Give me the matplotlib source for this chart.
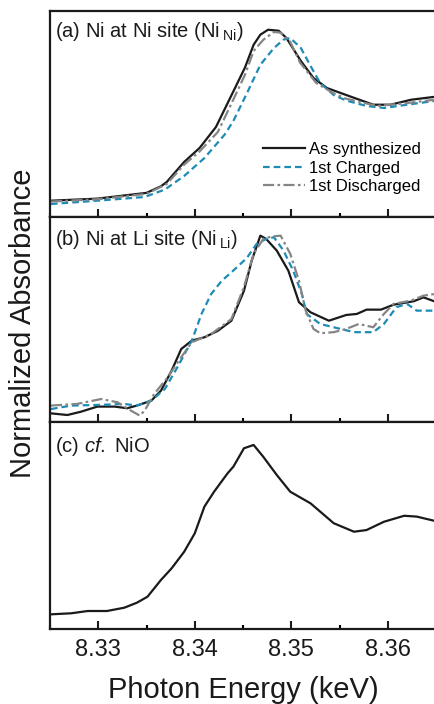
import matplotlib
matplotlib.use('Agg')
import matplotlib.pyplot as plt
from matplotlib.ticker import MultipleLocator

# Panel (a): Ni at Ni site
a_synth_e = [8.3251, 8.3299, 8.3350, 8.3365, 8.3371, 8.3389, 8.3405, 8.3422, 8.3439, 8.3452,
             8.3461, 8.3468, 8.3476, 8.3487, 8.3495, 8.3510, 8.3523, 8.3537, 8.3557, 8.3585,
             8.3603, 8.3624, 8.3648]
a_synth_y = [0.079, 0.089, 0.117, 0.149, 0.170, 0.267, 0.335, 0.437, 0.600, 0.725,
             0.836, 0.885, 0.909, 0.904, 0.869, 0.757, 0.675, 0.626, 0.592, 0.545,
             0.545, 0.569, 0.583]
a_charged_e = [8.3251, 8.3299, 8.3348, 8.3369, 8.3389, 8.3410, 8.3431, 8.3440, 8.3454, 8.3468,
               8.3482, 8.3492, 8.3499, 8.3510, 8.3520, 8.3530, 8.3544, 8.3557, 8.3578, 8.3596,
               8.3620, 8.3648]
a_charged_y = [0.063, 0.079, 0.097, 0.133, 0.199, 0.286, 0.400, 0.466, 0.600, 0.739,
               0.820, 0.861, 0.869, 0.820, 0.733, 0.650, 0.592, 0.565, 0.539, 0.529,
               0.545, 0.563]
a_disch_e = [8.3251, 8.3299, 8.3350, 8.3371, 8.3389, 8.3405, 8.3424, 8.3440, 8.3452, 8.3461,
             8.3471, 8.3482, 8.3489, 8.3499, 8.3509, 8.3526, 8.3544, 8.3557, 8.3589, 8.3620,
             8.3648]
a_disch_y = [0.075, 0.086, 0.112, 0.160, 0.254, 0.318, 0.413, 0.570, 0.690, 0.806,
             0.860, 0.898, 0.895, 0.850, 0.750, 0.650, 0.600, 0.574, 0.539, 0.553,
             0.569]

# Panel (b): Ni at Li site
b_synth_e = [8.3251, 8.3268, 8.3282, 8.3299, 8.3317, 8.3330, 8.3340, 8.3355, 8.3365, 8.3376,
             8.3386, 8.3397, 8.3410, 8.3424, 8.3438, 8.3451, 8.3459, 8.3468, 8.3474, 8.3485,
             8.3497, 8.3508, 8.3520, 8.3539, 8.3557, 8.3568, 8.3578, 8.3593, 8.3606, 8.3627,
             8.3637, 8.3648]
b_synth_y = [0.042, 0.034, 0.050, 0.075, 0.075, 0.067, 0.080, 0.104, 0.153, 0.250,
             0.356, 0.397, 0.413, 0.445, 0.494, 0.640, 0.787, 0.909, 0.893, 0.836,
             0.738, 0.584, 0.535, 0.494, 0.522, 0.527, 0.548, 0.548, 0.572, 0.589,
             0.608, 0.589]
b_charged_e = [8.3251, 8.3272, 8.3299, 8.3327, 8.3340, 8.3355, 8.3369, 8.3382, 8.3397, 8.3407,
               8.3417, 8.3428, 8.3438, 8.3454, 8.3464, 8.3474, 8.3482, 8.3492, 8.3502, 8.3511,
               8.3516, 8.3530, 8.3544, 8.3565, 8.3585, 8.3596, 8.3609, 8.3620, 8.3630, 8.3648]
b_charged_y = [0.063, 0.080, 0.083, 0.088, 0.080, 0.104, 0.161, 0.267, 0.397, 0.527,
               0.624, 0.689, 0.730, 0.800, 0.868, 0.893, 0.901, 0.836, 0.738, 0.624,
               0.527, 0.478, 0.462, 0.438, 0.438, 0.478, 0.560, 0.576, 0.543, 0.543]
b_disch_e = [8.3251, 8.3278, 8.3303, 8.3320, 8.3334, 8.3343, 8.3348, 8.3358, 8.3372, 8.3386,
             8.3397, 8.3417, 8.3438, 8.3451, 8.3461, 8.3471, 8.3479, 8.3489, 8.3499, 8.3508,
             8.3515, 8.3523, 8.3530, 8.3544, 8.3557, 8.3570, 8.3585, 8.3596, 8.3606, 8.3624,
             8.3637, 8.3648]
b_disch_y = [0.080, 0.088, 0.112, 0.096, 0.055, 0.031, 0.055, 0.137, 0.218, 0.316,
             0.389, 0.429, 0.502, 0.659, 0.820, 0.893, 0.904, 0.909, 0.820, 0.689,
             0.543, 0.454, 0.433, 0.438, 0.454, 0.478, 0.462, 0.527, 0.576, 0.592,
             0.616, 0.624]

# Panel (c): NiO reference
c_nio_e = [8.3251, 8.3272, 8.3289, 8.3309, 8.3327, 8.3340, 8.3351, 8.3365, 8.3376, 8.3389,
           8.3400, 8.3410, 8.3420, 8.3434, 8.3440, 8.3451, 8.3461, 8.3471, 8.3485, 8.3499,
           8.3520, 8.3544, 8.3565, 8.3578, 8.3596, 8.3617, 8.3630, 8.3648]
c_nio_y = [0.071, 0.076, 0.087, 0.087, 0.103, 0.127, 0.156, 0.237, 0.293, 0.373,
           0.462, 0.591, 0.663, 0.752, 0.784, 0.873, 0.889, 0.832, 0.744, 0.663,
           0.607, 0.511, 0.470, 0.478, 0.518, 0.547, 0.543, 0.523]

x_ticks = [8.33, 8.34, 8.35, 8.36]
x_tick_labels = ['8.33', '8.34', '8.35', '8.36']

plt.rcParams['font.family'] = ['Liberation Sans', 'DejaVu Sans']
plt.rcParams['mathtext.fontset'] = 'custom'
plt.rcParams['mathtext.rm'] = 'Liberation Sans'
plt.rcParams['mathtext.it'] = 'Liberation Sans:italic'

BLACK = '#1a1a1a'
BLUE = '#1e8bb5'
GRAY = '#858585'

synth_style = dict(color=BLACK, lw=1.6, ls='-')
charged_style = dict(color=BLUE, lw=1.6, ls=(0, (3, 1.8)))
disch_style = dict(color=GRAY, lw=1.6, ls=(0, (5, 1.5, 1.2, 1.5)))

fig = plt.figure(figsize=(4.34, 7.04), dpi=100)

# axes positions in figure fraction (left, bottom, width, height)
left, width = 50 / 434, 386 / 434
ax_a = fig.add_axes([left, 0.6918, width, 0.2926])
ax_b = fig.add_axes([left, 0.4006, width, 0.2912])
ax_c = fig.add_axes([left, 0.1065, width, 0.2941])

for ax in (ax_a, ax_b, ax_c):
    ax.set_xlim(8.325, 8.365)
    ax.set_ylim(0, 1)
    ax.set_yticks([])
    ax.xaxis.set_major_locator(MultipleLocator(0.01))
    ax.xaxis.set_minor_locator(MultipleLocator(0.005))
    ax.set_xticks(x_ticks)
    ax.tick_params(axis='x', which='major', direction='in', length=5.5, width=1.5,
                   labelsize=17, pad=7, colors=BLACK)
    ax.tick_params(axis='x', which='minor', direction='in', length=3, width=1.5)
    for sp in ax.spines.values():
        sp.set_linewidth(1.6)
        sp.set_color(BLACK)

ax_a.tick_params(labelbottom=False)
ax_b.tick_params(labelbottom=False)
ax_c.set_xticklabels(x_tick_labels)

# (a)
ax_a.plot(a_synth_e, a_synth_y, label='As synthesized', **synth_style)
ax_a.plot(a_charged_e, a_charged_y, label='1st Charged', **charged_style)
ax_a.plot(a_disch_e, a_disch_y, label='1st Discharged', **disch_style)
ax_a.text(0.012, 0.874, r'(a) Ni at Ni site (Ni$\,_{\mathregular{Ni}}$)', transform=ax_a.transAxes,
          fontsize=14.5, va='baseline', ha='left', color=BLACK)
ax_a.legend(loc='upper left', bbox_to_anchor=(0.53, 0.405), frameon=False, fontsize=12,
            handlelength=2.5, handletextpad=0.25, labelspacing=0.22, borderpad=0)

# (b)
ax_b.plot(b_synth_e, b_synth_y, **synth_style)
ax_b.plot(b_charged_e, b_charged_y, **charged_style)
ax_b.plot(b_disch_e, b_disch_y, **disch_style)
ax_b.text(0.012, 0.863, r'(b) Ni at Li site (Ni$\,_{\mathregular{Li}}$)', transform=ax_b.transAxes,
          fontsize=14.5, va='baseline', ha='left', color=BLACK)

# (c)
ax_c.plot(c_nio_e, c_nio_y, **synth_style)
ax_c.text(0.012, 0.855, r'(c) $\mathit{cf.}$ NiO', transform=ax_c.transAxes,
          fontsize=14.5, va='baseline', ha='left', color=BLACK)

fig.text(243 / 434, 0.0085, 'Photon Energy (keV)', fontsize=21, ha='center', va='baseline', color=BLACK)
fig.text(23 / 434, 1 - 323 / 704, 'Normalized Absorbance', fontsize=21, rotation=90,
         ha='center', va='center', color=BLACK)

fig.savefig('out.png', dpi=100)
